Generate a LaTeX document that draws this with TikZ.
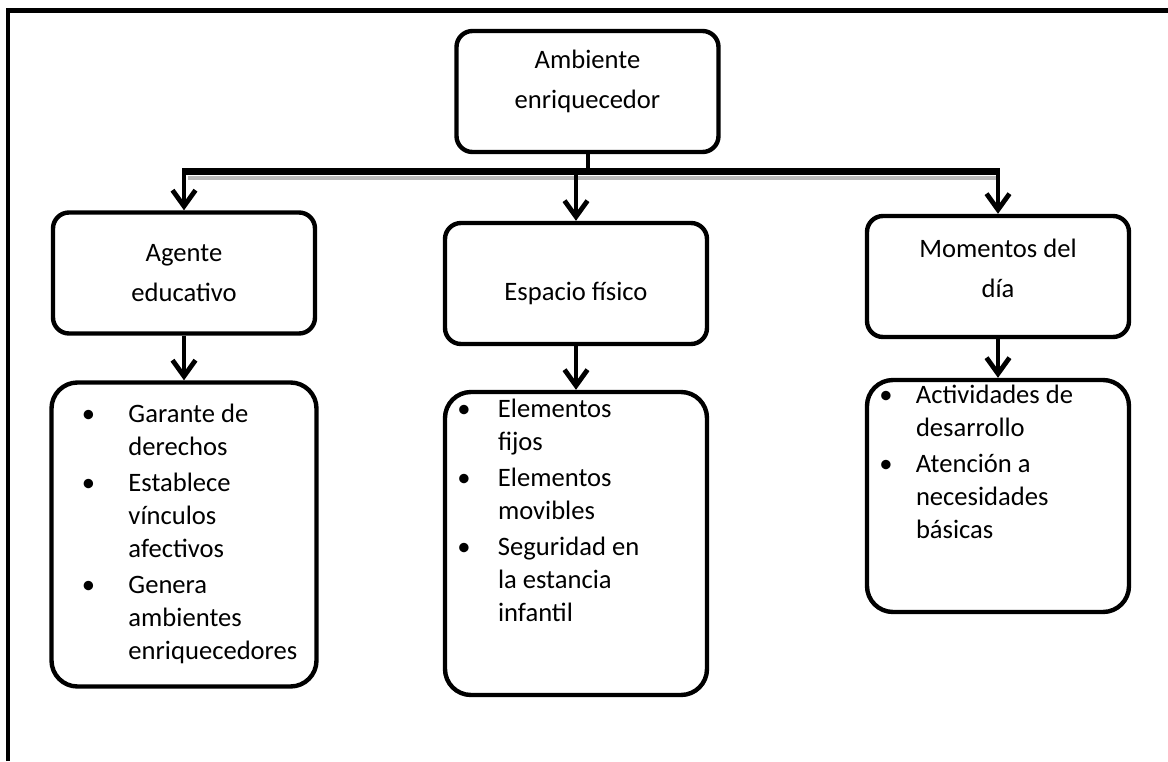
\documentclass[tikz,border=0pt]{standalone}
\usepackage{fontspec}
\setmainfont{Carlito}
\usetikzlibrary{positioning,arrows.meta}

\tikzset{
  head/.style={draw, line width=2.2pt, rounded corners=8pt, minimum width=131pt,
    minimum height=60.5pt, inner sep=0pt},
  headtext/.style={align=center, inner sep=0pt, font=\fontsize{13.3}{20}\selectfont},
  listbox/.style={draw, line width=2.2pt, rounded corners=13pt, inner sep=0pt,
    font=\fontsize{13.3}{16.5}\selectfont},
  arr/.style={line width=2pt, -{Straight Barb[length=8pt,width=11.5pt,line width=2.4pt]}},
}
\newcommand{\blt}{\makebox[0pt]{\textbullet}}

\begin{document}
\begin{tikzpicture}[x=0.5pt,y=-0.5pt]
\useasboundingbox (0,0) rectangle (1168,761);
% marco
\draw[line width=2.2pt] (8,761) -- (8,10.5) -- (1168,10.5);

% cajas principales
\node[head, label={[headtext, name=ambientetxt, yshift=5pt]center:Ambiente\\enriquecedor}] (ambiente) at (587.5,91.5) {};
\node[head, label={[headtext, name=agentetxt]center:Agente\\educativo}] (agente) at (184,273) {};
\node[head, label={[headtext, name=espaciotxt, yshift=-5pt]center:Espacio físico}] (espacio) at (576,283.5) {};
\node[head, label={[headtext, name=momentostxt, yshift=4pt]center:Momentos del\\día}] (momentos) at (998,276.5) {};

% listas
\node[listbox, below=22.3pt of agente] (listaagente) {\parbox[c][152pt][t]{132.5pt}{\vspace{8.5pt}%
  \begin{tabular}{@{\hspace{18.5pt}}c@{\hspace{20pt}}l@{}}
    \blt & Garante de\\ & derechos\\[1.5pt]
    \blt & Establece\\ & vínculos\\ & afectivos\\[1.5pt]
    \blt & Genera\\ & ambientes\\ & enriquecedores
  \end{tabular}}};
\node[listbox, below=21.8pt of espacio] (listaespacio) {\parbox[c][151.5pt][t]{131pt}{\vspace{1pt}%
  \begin{tabular}{@{\hspace{9.5pt}}c@{\hspace{17pt}}l@{}}
    \blt & Elementos\\ & fijos\\[1.5pt]
    \blt & Elementos\\ & movibles\\[1.5pt]
    \blt & Seguridad en\\ & la estancia\\ & infantil
  \end{tabular}}};
\node[listbox, below=19.3pt of momentos] (listamomentos) {\parbox[c][116pt][t]{131pt}{\vspace{0pt}%
  \begin{tabular}{@{\hspace{9.5pt}}c@{\hspace{15pt}}l@{}}
    \blt & Actividades de\\ & desarrollo\\[1.5pt]
    \blt & Atención a\\ & necesidades\\ & básicas
  \end{tabular}}};

% conectores
\coordinate (barra) at (0,171.5);
\draw[line width=2pt] (ambiente.south) -- (ambiente.south |- barra);
\draw[gray!55, line width=2pt] ([xshift=2pt,yshift=-3.2pt]agente.north |- barra)
  -- ([yshift=-3.2pt]momentos.north |- barra);
\draw[line width=3.5pt, shorten <=-1pt, shorten >=-1pt] (agente.north |- barra) -- (momentos.north |- barra);
\draw[arr] (agente.north |- barra) -- (agente.north);
\draw[arr] (espacio.north |- barra) -- (espacio.north);
\draw[arr] (momentos.north |- barra) -- (momentos.north);

\draw[arr] (agente.south) -- (listaagente.north);
\draw[arr] (espacio.south) -- (listaespacio.north);
\draw[arr] (momentos.south) -- (listamomentos.north);
\end{tikzpicture}
\end{document}
